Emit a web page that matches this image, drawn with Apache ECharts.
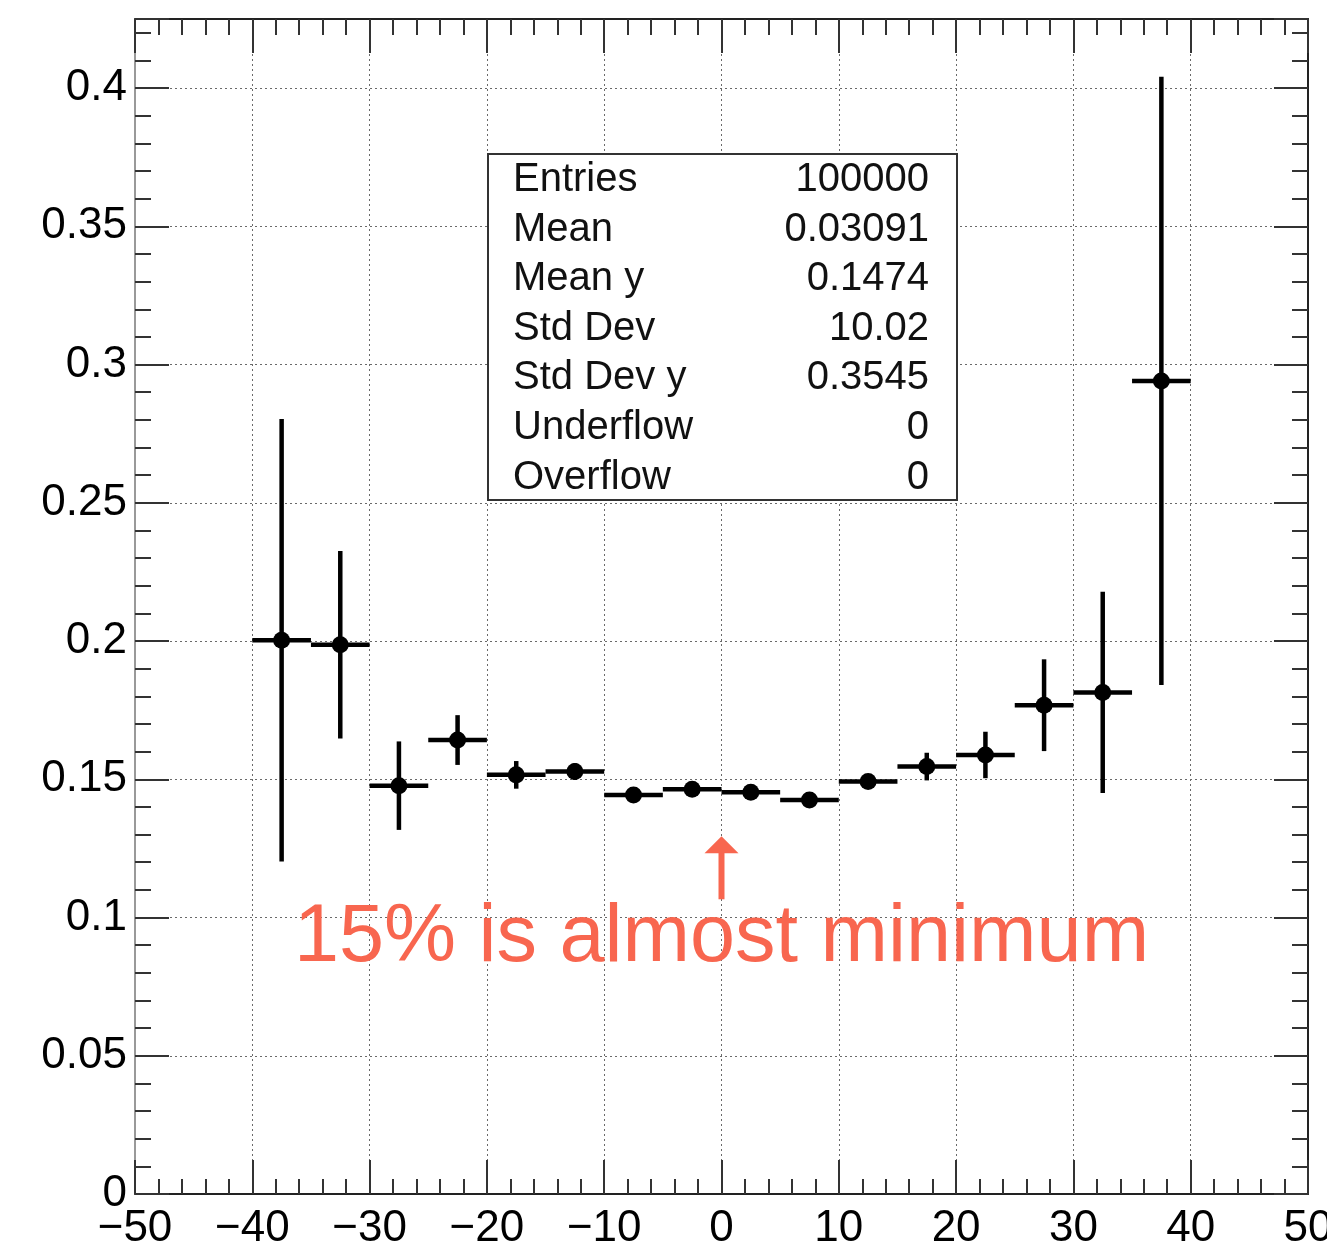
<!DOCTYPE html>
<html>
<head>
<meta charset="utf-8">
<title>Profile</title>
<script src="https://cdn.jsdelivr.net/npm/echarts@6/dist/echarts.min.js"></script>
<style>
  html, body { margin: 0; padding: 0; background: #fff; }
  #chart { width: 1327px; height: 1251px; }
</style>
</head>
<body>
<div id="chart"></div>
<script>
// Bin centres (bin width 5) of the profile histogram
const binCenters = [-37.5, -32.5, -27.5, -22.5, -17.5, -12.5, -7.5, -2.5, 2.5, 7.5, 12.5, 17.5, 22.5, 27.5, 32.5, 37.5];
// Mean y per bin
const binMeans = [0.2003, 0.1987, 0.1477, 0.1642, 0.1516, 0.1528, 0.1443, 0.1464, 0.1453, 0.1425, 0.1492, 0.1546, 0.1588, 0.1768, 0.1814, 0.2941];
// Error on the mean per bin
const binErrors = [0.0800, 0.0339, 0.0160, 0.0090, 0.0050, 0.0030, 0.0015, 0.0015, 0.0015, 0.0015, 0.0025, 0.0050, 0.0084, 0.0166, 0.0364, 0.1100];
const binHalfWidth = 2.5;

// Statistics box rows
const statNames = ['Entries', 'Mean', 'Mean y', 'Std Dev', 'Std Dev y', 'Underflow', 'Overflow'];
const statValues = ['100000', '0.03091', '0.1474', '10.02', '0.3545', '0', '0'];

const annotationText = '15% is almost minimum';

const FONT = '"Liberation Sans", Arial, Helvetica, sans-serif';
const DARK = '#222';
const gridDots = { color: '#6a6a6a', width: 1, type: [2, 3] };

const chart = echarts.init(document.getElementById('chart'), null, { renderer: 'canvas' });

const points = binCenters.map((x, i) => [x, binMeans[i], binErrors[i]]);

function fmtY(v) {
  if (v > 0.41) return '';
  return String(Number(v.toFixed(2)));
}
function fmtX(v) {
  return String(v).replace('-', '\u2212');
}

const xCommon = {
  type: 'value', min: -50, max: 50, interval: 10,
  axisLine: { show: true, onZero: false, lineStyle: { color: DARK, width: 2 } },
  axisTick: { show: true, inside: true, length: 34, lineStyle: { color: '#333', width: 2 } },
  minorTick: { show: true, splitNumber: 5, length: 15, lineStyle: { color: '#333', width: 2 } }
};

const yMajor = {
  type: 'value', min: 0, max: 0.425, interval: 0.05,
  axisLine: { show: true, onZero: false, lineStyle: { color: DARK, width: 2 } },
  axisTick: { show: true, inside: true, length: 34, lineStyle: { color: '#333', width: 2 } }
};
const yMinor = {
  type: 'value', min: 0, max: 0.425, interval: 0.01,
  axisLine: { show: false, onZero: false },
  axisLabel: { show: false },
  splitLine: { show: false },
  axisTick: { show: true, inside: true, length: 16, lineStyle: { color: '#333', width: 2 } }
};

const statRows = [];
const rowTop = 180, rowStep = 49.6;
statNames.forEach((name, i) => {
  statRows.push({
    type: 'text', x: 513, y: rowTop + i * rowStep,
    style: { text: name, font: '40px ' + FONT, fill: '#111', textAlign: 'left', textVerticalAlign: 'middle' },
    z: 101
  });
  statRows.push({
    type: 'text', x: 929, y: rowTop + i * rowStep,
    style: { text: statValues[i], font: '40px ' + FONT, fill: '#111', textAlign: 'right', textVerticalAlign: 'middle' },
    z: 101
  });
});

const option = {
  animation: false,
  backgroundColor: '#fff',
  grid: { left: 135, right: 19, top: 19, bottom: 57, containLabel: false, outerBoundsMode: 'none' },
  xAxis: [
    Object.assign({}, xCommon, {
      position: 'bottom',
      axisLabel: { show: true, fontSize: 44, color: '#000', fontFamily: FONT, margin: 13, formatter: fmtX, hideOverlap: false },
      splitLine: { show: true, lineStyle: gridDots }
    }),
    Object.assign({}, xCommon, {
      position: 'top',
      minorTick: { show: true, splitNumber: 5, length: 16, lineStyle: { color: '#333', width: 2 } },
      axisLabel: { show: false },
      splitLine: { show: false }
    })
  ],
  yAxis: [
    Object.assign({}, yMajor, {
      position: 'left',
      axisLine: { show: true, onZero: false, lineStyle: { color: '#999', width: 2 } },
      axisLabel: { show: true, fontSize: 44, color: '#000', fontFamily: FONT, margin: 8, formatter: fmtY },
      splitLine: { show: true, lineStyle: gridDots }
    }),
    Object.assign({}, yMinor, { position: 'left' }),
    Object.assign({}, yMajor, {
      position: 'right',
      axisLabel: { show: false },
      splitLine: { show: false }
    }),
    Object.assign({}, yMinor, { position: 'right' })
  ],
  series: [{
    type: 'custom',
    xAxisIndex: 0,
    yAxisIndex: 0,
    data: points,
    encode: { x: 0, y: 1 },
    z: 5,
    renderItem: function (params, api) {
      const x = api.value(0), y = api.value(1), e = api.value(2);
      const left = api.coord([x - binHalfWidth, y]);
      const right = api.coord([x + binHalfWidth, y]);
      const top = api.coord([x, y + e]);
      const bottom = api.coord([x, y - e]);
      const c = api.coord([x, y]);
      const st = { stroke: '#000', lineWidth: 4.5 };
      return {
        type: 'group',
        children: [
          { type: 'line', shape: { x1: left[0], y1: left[1], x2: right[0], y2: right[1] }, style: st },
          { type: 'line', shape: { x1: top[0], y1: top[1], x2: bottom[0], y2: bottom[1] }, style: st },
          { type: 'circle', shape: { cx: c[0], cy: c[1], r: 8.5 }, style: { fill: '#000' } }
        ]
      };
    }
  }],
  graphic: [
    {
      type: 'rect', z: 100,
      shape: { x: 488, y: 154, width: 469, height: 346 },
      style: { fill: '#fff', stroke: '#333', lineWidth: 2 }
    }
  ].concat(statRows)
};

chart.setOption(option);

// Annotation arrow and caption, anchored at x = 0 in data space
const tip = chart.convertToPixel({ xAxisIndex: 0, yAxisIndex: 0 }, [0, 0.1294]);
const tail = chart.convertToPixel({ xAxisIndex: 0, yAxisIndex: 0 }, [0, 0.1066]);
const caption = chart.convertToPixel({ xAxisIndex: 0, yAxisIndex: 0 }, [0, 0.0925]);
const RED = '#f8664f';
chart.setOption({
  graphic: option.graphic.concat([
    {
      type: 'line', z: 110,
      shape: { x1: tail[0], y1: tail[1], x2: tip[0], y2: tip[1] + 14 },
      style: { stroke: RED, lineWidth: 6 }
    },
    {
      type: 'polygon', z: 110,
      shape: { points: [[tip[0], tip[1]], [tip[0] - 17, tip[1] + 17], [tip[0] + 17, tip[1] + 17]] },
      style: { fill: RED }
    },
    {
      type: 'text', z: 110, x: caption[0], y: caption[1],
      style: { text: annotationText, font: '81px ' + FONT, fill: RED, textAlign: 'center', textVerticalAlign: 'middle' }
    }
  ])
});
</script>
</body>
</html>
